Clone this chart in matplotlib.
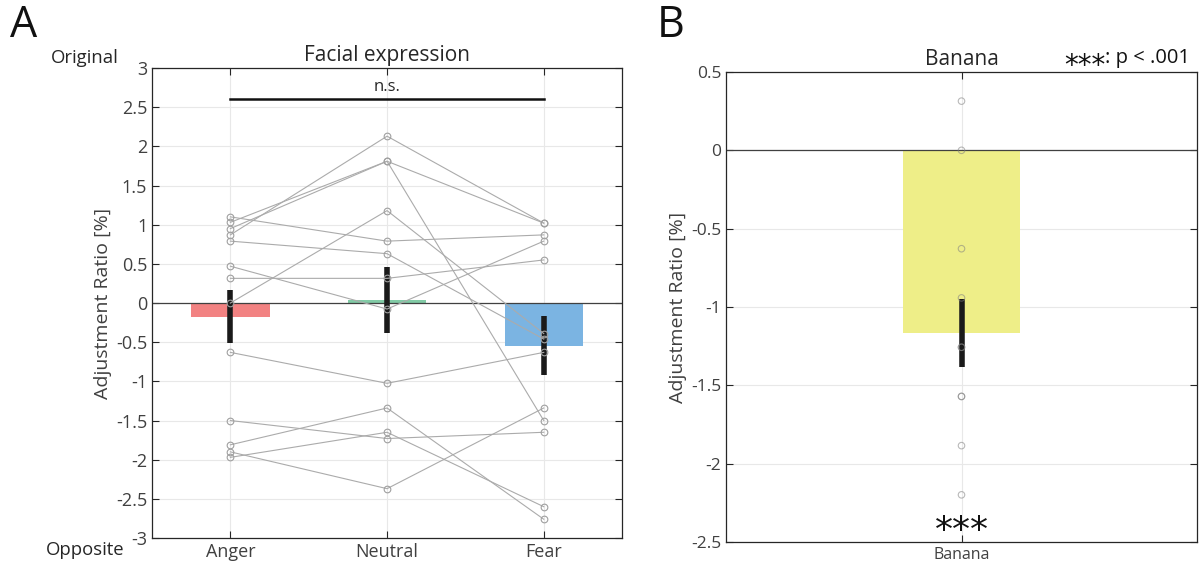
import numpy as np
import matplotlib
matplotlib.use('Agg')
import matplotlib.pyplot as plt

plt.rcParams['font.family'] = ['Open Sans', 'DejaVu Sans']
plt.rcParams['axes.unicode_minus'] = False

# ---------------- data ----------------
conditions = ['Anger', 'Neutral', 'Fear']
anger = [1.10, 1.03, 0.95, 0.87, 0.79, 0.47, 0.315, 0.0, -0.63, -1.50, -1.81, -1.90, -1.97]
neutral = [0.79, 1.81, 1.81, 2.13, 0.63, -0.077, 0.315, 1.18, -1.025, -1.73, -1.34, -2.37, -1.65]
fear = [0.87, 1.02, -1.50, 1.02, -0.46, 0.79, 0.55, -0.39, -0.63, -1.65, -2.76, -1.34, -2.60]
bar_colors = ['#F28282', '#82CBA6', '#7BB4E2']
yticks_A = [-3, -2.5, -2, -1.5, -1, -0.5, 0, 0.5, 1, 1.5, 2, 2.5, 3]

banana_label = ['Banana']
banana_points = [0.314, 0.0, -0.628, -0.942, -1.257, -1.257, -1.571, -1.571, -1.885, -2.199]
banana_mean = [-1.165]
banana_sem = [0.215]
banana_color = '#EEEE88'
yticks_B = [-2.5, -2, -1.5, -1, -0.5, 0, 0.5]

# ---------------- figure ----------------
fig = plt.figure(figsize=(12, 5.75), dpi=100)
txt_col = '#262626'
star_font = ['DejaVu Sans']


def style_axes(ax, labelsize):
    for s in ax.spines.values():
        s.set_color(txt_col)
        s.set_linewidth(0.9)
    ax.tick_params(direction='in', top=True, right=True, length=5, width=0.8,
                   colors=txt_col, labelsize=labelsize, labelcolor='#404040')
    ax.grid(True, color='#e8e8e8', lw=0.8)
    ax.set_axisbelow(True)


# Panel A
axA = fig.add_axes([0.1267, 0.0643, 0.3917, 0.8174])
x = np.arange(1, len(conditions) + 1)
data = np.array([anger, neutral, fear])
means = data.mean(axis=1)
sems = data.std(axis=1, ddof=1) / np.sqrt(data.shape[1])

axA.bar(x, means, width=0.5, color=bar_colors, zorder=1)
axA.axhline(0, color='#404040', lw=0.9, zorder=2)
axA.vlines(x, means - sems, means + sems, color='#1a1a1a', lw=4, zorder=3)
for subj in data.T:
    axA.plot(x, subj, color='#ababab', lw=0.8, marker='o', mfc='none',
             mec='#a0a0a0', mew=0.8, ms=4.8, zorder=4)

axA.set_xlim(0.5, 3.5)
axA.set_ylim(-3, 3)
axA.set_xticks(x)
axA.set_xticklabels(conditions)
axA.set_yticks(yticks_A)
axA.set_yticklabels(['%g' % v for v in yticks_A])
style_axes(axA, 13)
axA.set_ylabel('Adjustment Ratio [%]', fontsize=14, color='#404040', labelpad=3)
axA.set_title('Facial expression', fontsize=15, color=txt_col, pad=5)

axA.plot([1, 3], [2.6, 2.6], color='#111111', lw=1.8, zorder=5)
axA.text(2, 2.66, 'n.s.', ha='center', va='bottom', fontsize=12, color=txt_col)

fig.text(85 / 1200, 1 - 58 / 575, 'Original', ha='center', va='center', fontsize=13.3, color=txt_col)
fig.text(85 / 1200, 1 - 550 / 575, 'Opposite', ha='center', va='center', fontsize=13.3, color=txt_col)
fig.text(10 / 1200, 1 - 26 / 575, 'A', ha='left', va='center', fontsize=31, color='#111111')
fig.text(657 / 1200, 1 - 26 / 575, 'B', ha='left', va='center', fontsize=31, color='#111111')

# Panel B
axB = fig.add_axes([0.605, 0.0574, 0.3925, 0.8174])
xb = np.arange(1, len(banana_label) + 1)
axB.bar(xb, banana_mean, width=0.5, color=banana_color, zorder=1)
axB.axhline(0, color='#404040', lw=0.9, zorder=2)
axB.vlines(xb, np.array(banana_mean) - np.array(banana_sem),
           np.array(banana_mean) + np.array(banana_sem), color='#1a1a1a', lw=4, zorder=3)
axB.scatter(np.full(len(banana_points), xb[0]), banana_points, s=22, facecolors='none',
            edgecolors='#808080', linewidths=0.8, alpha=0.55, zorder=4)
axB.set_xlim(0, 2)
axB.set_ylim(-2.5, 0.5)
axB.set_xticks(xb)
axB.set_xticklabels(banana_label, fontsize=11.5)
axB.set_yticks(yticks_B)
axB.set_yticklabels(['%g' % v for v in yticks_B])
style_axes(axB, 12.5)
axB.tick_params(axis='x', labelsize=11.5)
axB.set_ylabel('Adjustment Ratio [%]', fontsize=14, color='#404040', labelpad=3)
axB.set_title('Banana', fontsize=15, color=txt_col, pad=5)
axB.text(1, -2.495, '***', ha='center', va='baseline', fontsize=26, color='#111111',
         family=star_font)

# top-right significance legend
t2 = fig.text(1190 / 1200, 1 - 58 / 575, ': p < .001', ha='right', va='center', fontsize=14.5,
              color='#111111')
fig.canvas.draw()
bb = t2.get_window_extent()
fig.text(bb.x0 / 1200, 1 - 74 / 575, '***', ha='right', va='baseline', fontsize=20,
         color='#111111', family=star_font)

fig.savefig('out.png', dpi=100)
